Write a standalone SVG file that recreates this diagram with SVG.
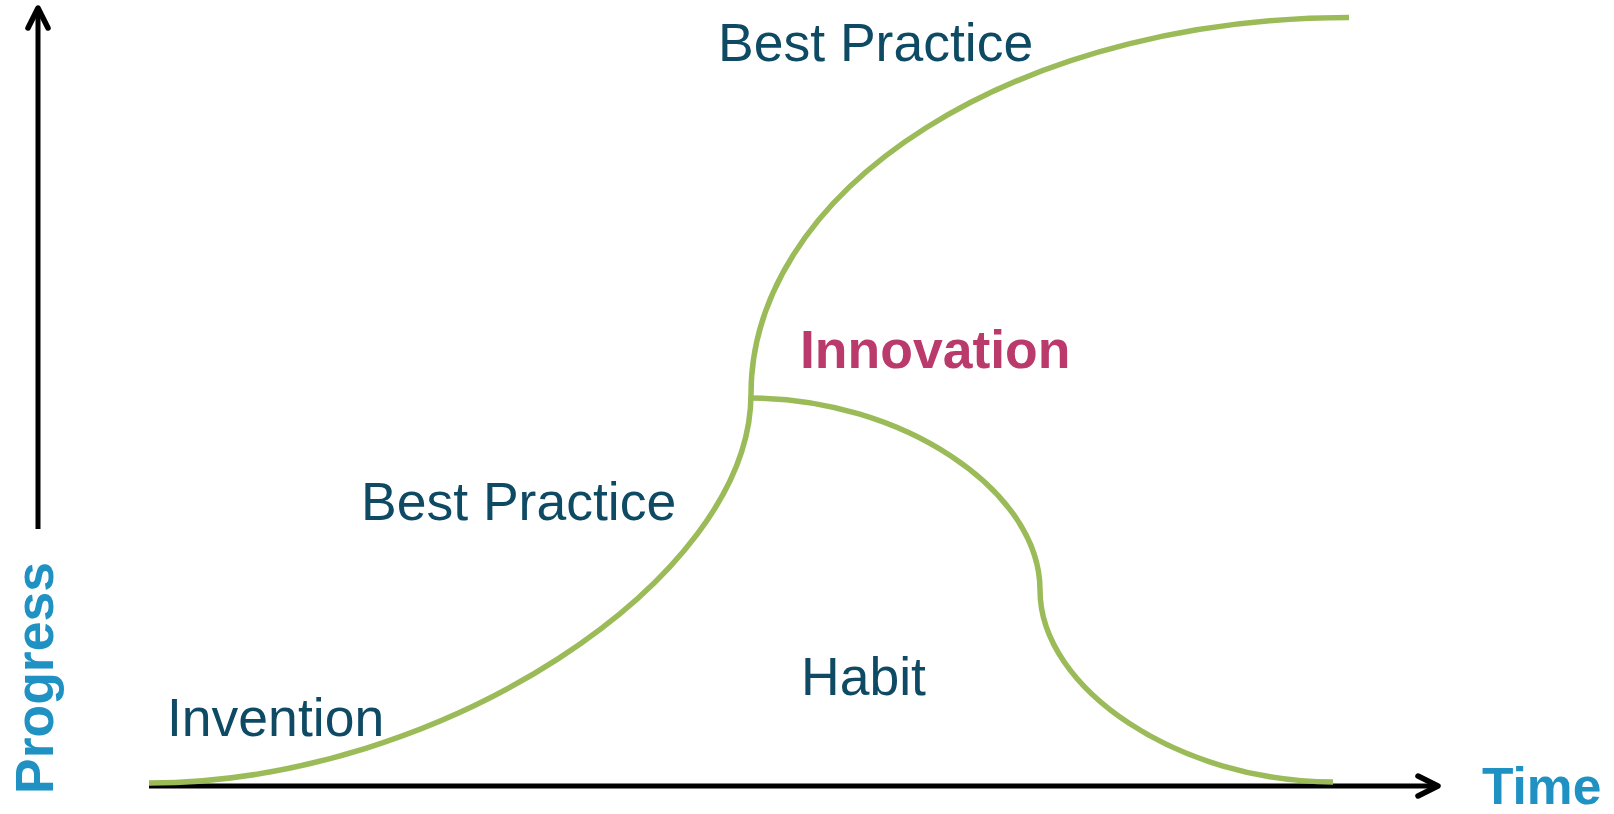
<svg xmlns="http://www.w3.org/2000/svg" width="1614" height="814" viewBox="0 0 1614 814">
  <style>
    .lbl { font-family: "Liberation Sans", Arial, sans-serif; font-size: 53.5px; fill: #0E4A64; }
    .inno { font-family: "Liberation Sans", Arial, sans-serif; font-size: 53.5px; font-weight: bold; fill: #BA3A6B; }
    .axl { font-family: "Liberation Sans", Arial, sans-serif; font-weight: bold; fill: #1F91C2; }
    .axis { fill: none; stroke: #000; stroke-width: 5; }
    .head { fill: none; stroke: #000; stroke-width: 5.5; stroke-linecap: round; stroke-linejoin: round; }
    .curve { fill: none; stroke: #9BBB59; stroke-width: 5.5; }
  </style>
  <rect width="1614" height="814" fill="#fff"/>
  <g id="connectors">
    <g id="y-axis">
      <line class="axis" x1="38" y1="529" x2="38" y2="10"/>
      <polyline class="head" points="28,28 38,8 48,28"/>
    </g>
    <g id="x-axis">
      <line class="axis" x1="149" y1="786" x2="1436" y2="786"/>
      <polyline class="head" points="1418,776 1438,786 1418,796"/>
    </g>
    <path id="s-curve-lower" class="curve" d="M149,783 C438,783 751,581 751,394"/>
    <path id="s-curve-upper" class="curve" d="M751,394 A598,376.5 0 0 1 1349,17.5"/>
    <path id="habit-branch" class="curve" d="M750,398 C901,398 1040,490 1040,590 C1040,690 1181,782 1333,782"/>
  </g>
  <g id="label-progress">
    <text class="axl" font-size="53.5" transform="translate(53,794) rotate(-90)">Progress</text>
  </g>
  <g id="label-time">
    <text class="axl" font-size="51.5" x="1482" y="804">Time</text>
  </g>
  <g id="node-best-practice-top">
    <text class="lbl" x="718" y="61">Best Practice</text>
  </g>
  <g id="node-best-practice-mid">
    <text class="lbl" x="361" y="520">Best Practice</text>
  </g>
  <g id="node-invention">
    <text class="lbl" x="167" y="736">Invention</text>
  </g>
  <g id="node-habit">
    <text class="lbl" x="801" y="695">Habit</text>
  </g>
  <g id="node-innovation">
    <text class="inno" x="800" y="368">Innovation</text>
  </g>
</svg>
